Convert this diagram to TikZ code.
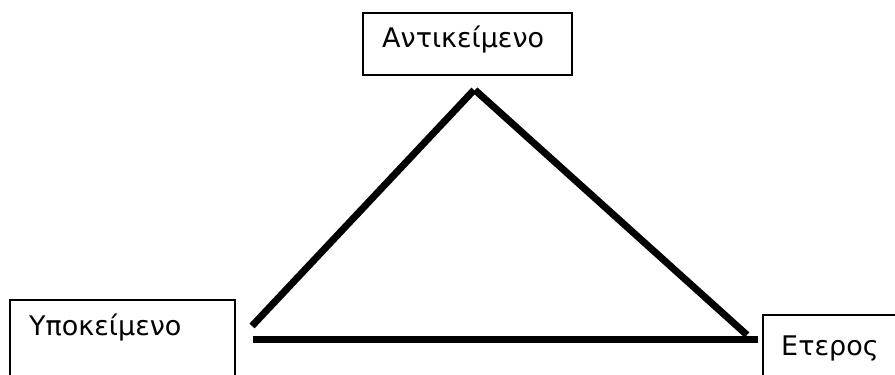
\documentclass[tikz,border=0pt]{standalone}
\usepackage{fontspec}
\setmainfont{DejaVu Sans}
\begin{document}
\begin{tikzpicture}[x=1pt,y=-1pt,
  lbox/.style={draw=black,line width=1.5pt,inner sep=0pt,anchor=north west},
  lbl/.style={inner sep=0pt,anchor=base west,font=\fontsize{27}{32}\selectfont},
  edge/.style={line width=7pt,line cap=butt}]
\useasboundingbox (0,0) rectangle (895,375);
% boxes
\node[lbox,minimum width=209pt,minimum height=62pt] (obj) at (362,12) {};
\node[lbox,minimum width=225pt,minimum height=100pt] (subj) at (9,299) {};
\node[lbox,minimum width=160pt,minimum height=100pt] (oth) at (762,314) {};
% labels
\node[lbl] (tobj) at (382,47) {Αντικείμενο};
\node[lbl] (tsubj) at (29,335) {Υποκείμενο};
\node[lbl] (toth) at (781,355) {Ετερος};
% triangle vertices
\coordinate (apexL) at (474,90);
\coordinate (apexR) at (475,90);
\coordinate (left) at (252,326);
\coordinate (botL) at (253,339.5);
\coordinate (botR) at (758,339.5);
\coordinate (right) at (747,335);
\draw[edge] (left) -- (apexL);
\draw[edge] (apexR) -- (right);
\draw[edge] (botL) -- (botR);
\end{tikzpicture}
\end{document}
